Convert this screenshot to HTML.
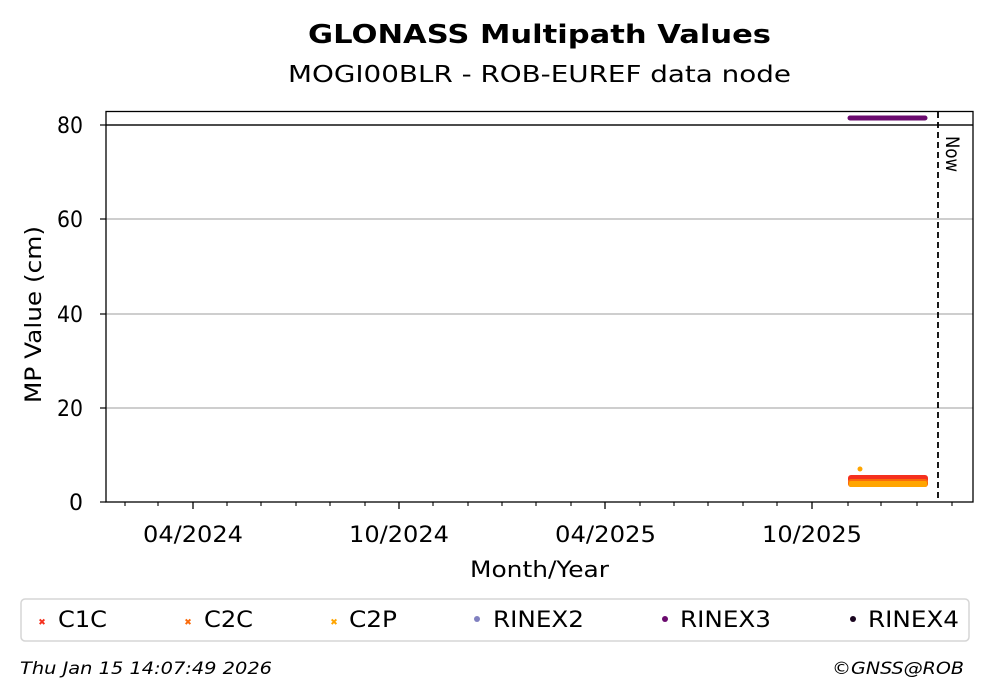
<!DOCTYPE html>
<html><head><meta charset="utf-8"><style>
html,body{margin:0;padding:0;background:#fff;}
svg{display:block;font-family:"DejaVu Sans","Liberation Sans",sans-serif;}
</style></head><body>
<svg width="993" height="699" viewBox="0 0 993 699" xmlns="http://www.w3.org/2000/svg">
<text x="308" y="43" font-size="26" font-weight="bold" textLength="463" lengthAdjust="spacingAndGlyphs">GLONASS Multipath Values</text>
<text x="288" y="82" font-size="23" textLength="503" lengthAdjust="spacingAndGlyphs">MOGI00BLR - ROB-EUREF data node</text>
<g stroke="#b0b0b0" stroke-width="1.3">
<line x1="106" y1="219" x2="973" y2="219"/>
<line x1="106" y1="314" x2="973" y2="314"/>
<line x1="106" y1="408" x2="973" y2="408"/>
</g>
<line x1="106" y1="125" x2="973" y2="125" stroke="#111" stroke-width="1.4"/>
<line x1="850" y1="118" x2="925" y2="118" stroke="#6a0a6e" stroke-width="5" stroke-linecap="round"/>
<rect x="848" y="475" width="80" height="8" rx="3" fill="#f5301e"/>
<rect x="848" y="479" width="80" height="8" rx="3" fill="#fa6a0a"/>
<rect x="849" y="481" width="78" height="6" rx="2" fill="#ffa500"/>
<circle cx="860" cy="469" r="2.5" fill="#ffa500"/>
<line x1="938" y1="112" x2="938" y2="502" stroke="#000" stroke-width="1.8" stroke-dasharray="6,4"/>
<text x="946" y="136" font-size="19" transform="rotate(90 946 136)" textLength="36" lengthAdjust="spacingAndGlyphs">Now</text>
<rect x="106" y="111.5" width="867" height="390.5" fill="none" stroke="#000" stroke-width="1.3"/>
<g stroke="#000" stroke-width="1.2">
<line x1="100" y1="125" x2="106" y2="125"/>
<line x1="100" y1="219" x2="106" y2="219"/>
<line x1="100" y1="314" x2="106" y2="314"/>
<line x1="100" y1="408" x2="106" y2="408"/>
<line x1="100" y1="502" x2="106" y2="502"/>
</g>
<g font-size="22" text-anchor="end">
<text x="83" y="133" textLength="26" lengthAdjust="spacingAndGlyphs">80</text>
<text x="83" y="227" textLength="26" lengthAdjust="spacingAndGlyphs">60</text>
<text x="83" y="322" textLength="26" lengthAdjust="spacingAndGlyphs">40</text>
<text x="83" y="416" textLength="26" lengthAdjust="spacingAndGlyphs">20</text>
<text x="83" y="510">0</text>
</g>
<text x="41" y="403" font-size="22" transform="rotate(-90 41 403)" textLength="177" lengthAdjust="spacingAndGlyphs">MP Value (cm)</text>
<g stroke="#000" stroke-width="1.1">
<line x1="125" y1="502" x2="125" y2="506"/><line x1="158" y1="502" x2="158" y2="506"/>
<line x1="227" y1="502" x2="227" y2="506"/><line x1="261" y1="502" x2="261" y2="506"/>
<line x1="296" y1="502" x2="296" y2="506"/><line x1="330" y1="502" x2="330" y2="506"/>
<line x1="365" y1="502" x2="365" y2="506"/>
<line x1="433" y1="502" x2="433" y2="506"/><line x1="468" y1="502" x2="468" y2="506"/>
<line x1="502" y1="502" x2="502" y2="506"/><line x1="536" y1="502" x2="536" y2="506"/>
<line x1="571" y1="502" x2="571" y2="506"/>
<line x1="640" y1="502" x2="640" y2="506"/><line x1="674" y1="502" x2="674" y2="506"/>
<line x1="708" y1="502" x2="708" y2="506"/><line x1="743" y1="502" x2="743" y2="506"/>
<line x1="777" y1="502" x2="777" y2="506"/>
<line x1="848" y1="502" x2="848" y2="506"/><line x1="881" y1="502" x2="881" y2="506"/>
<line x1="917" y1="502" x2="917" y2="506"/><line x1="952" y1="502" x2="952" y2="506"/>
</g>
<g stroke="#000" stroke-width="1.3">
<line x1="193" y1="502" x2="193" y2="509"/>
<line x1="399" y1="502" x2="399" y2="509"/>
<line x1="605" y1="502" x2="605" y2="509"/>
<line x1="812" y1="502" x2="812" y2="509"/>
</g>
<g font-size="22">
<text x="143" y="542" textLength="100" lengthAdjust="spacingAndGlyphs">04/2024</text>
<text x="349" y="542" textLength="100" lengthAdjust="spacingAndGlyphs">10/2024</text>
<text x="555" y="542" textLength="101" lengthAdjust="spacingAndGlyphs">04/2025</text>
<text x="762" y="542" textLength="100" lengthAdjust="spacingAndGlyphs">10/2025</text>
</g>
<text x="470" y="577" font-size="22" textLength="139" lengthAdjust="spacingAndGlyphs">Month/Year</text>
<rect x="21" y="599" width="948" height="42" rx="4" fill="#fff" stroke="#d5d5d5" stroke-width="1.5"/>
<g font-size="22">
<text x="42" y="625" font-size="9" fill="#f5301e" text-anchor="middle">✖</text><text x="58" y="627" textLength="49" lengthAdjust="spacingAndGlyphs">C1C</text>
<text x="188" y="625" font-size="9" fill="#fa6a0a" text-anchor="middle">✖</text><text x="204" y="627" textLength="49" lengthAdjust="spacingAndGlyphs">C2C</text>
<text x="334" y="625" font-size="9" fill="#ffa500" text-anchor="middle">✖</text><text x="349" y="627" textLength="48" lengthAdjust="spacingAndGlyphs">C2P</text>
<circle cx="477" cy="619" r="3" fill="#8080c0"/><text x="493" y="627" textLength="91" lengthAdjust="spacingAndGlyphs">RINEX2</text>
<circle cx="665" cy="619" r="3" fill="#6a0a6e"/><text x="680" y="627" textLength="91" lengthAdjust="spacingAndGlyphs">RINEX3</text>
<circle cx="853" cy="619" r="3" fill="#1a0520"/><text x="868" y="627" textLength="91" lengthAdjust="spacingAndGlyphs">RINEX4</text>
</g>
<text x="20" y="674" font-size="17" font-style="italic" textLength="252" lengthAdjust="spacingAndGlyphs">Thu Jan 15 14:07:49 2026</text>
<text x="832" y="674" font-size="17" font-style="italic" textLength="132" lengthAdjust="spacingAndGlyphs">©GNSS@ROB</text>
</svg>
</body></html>
